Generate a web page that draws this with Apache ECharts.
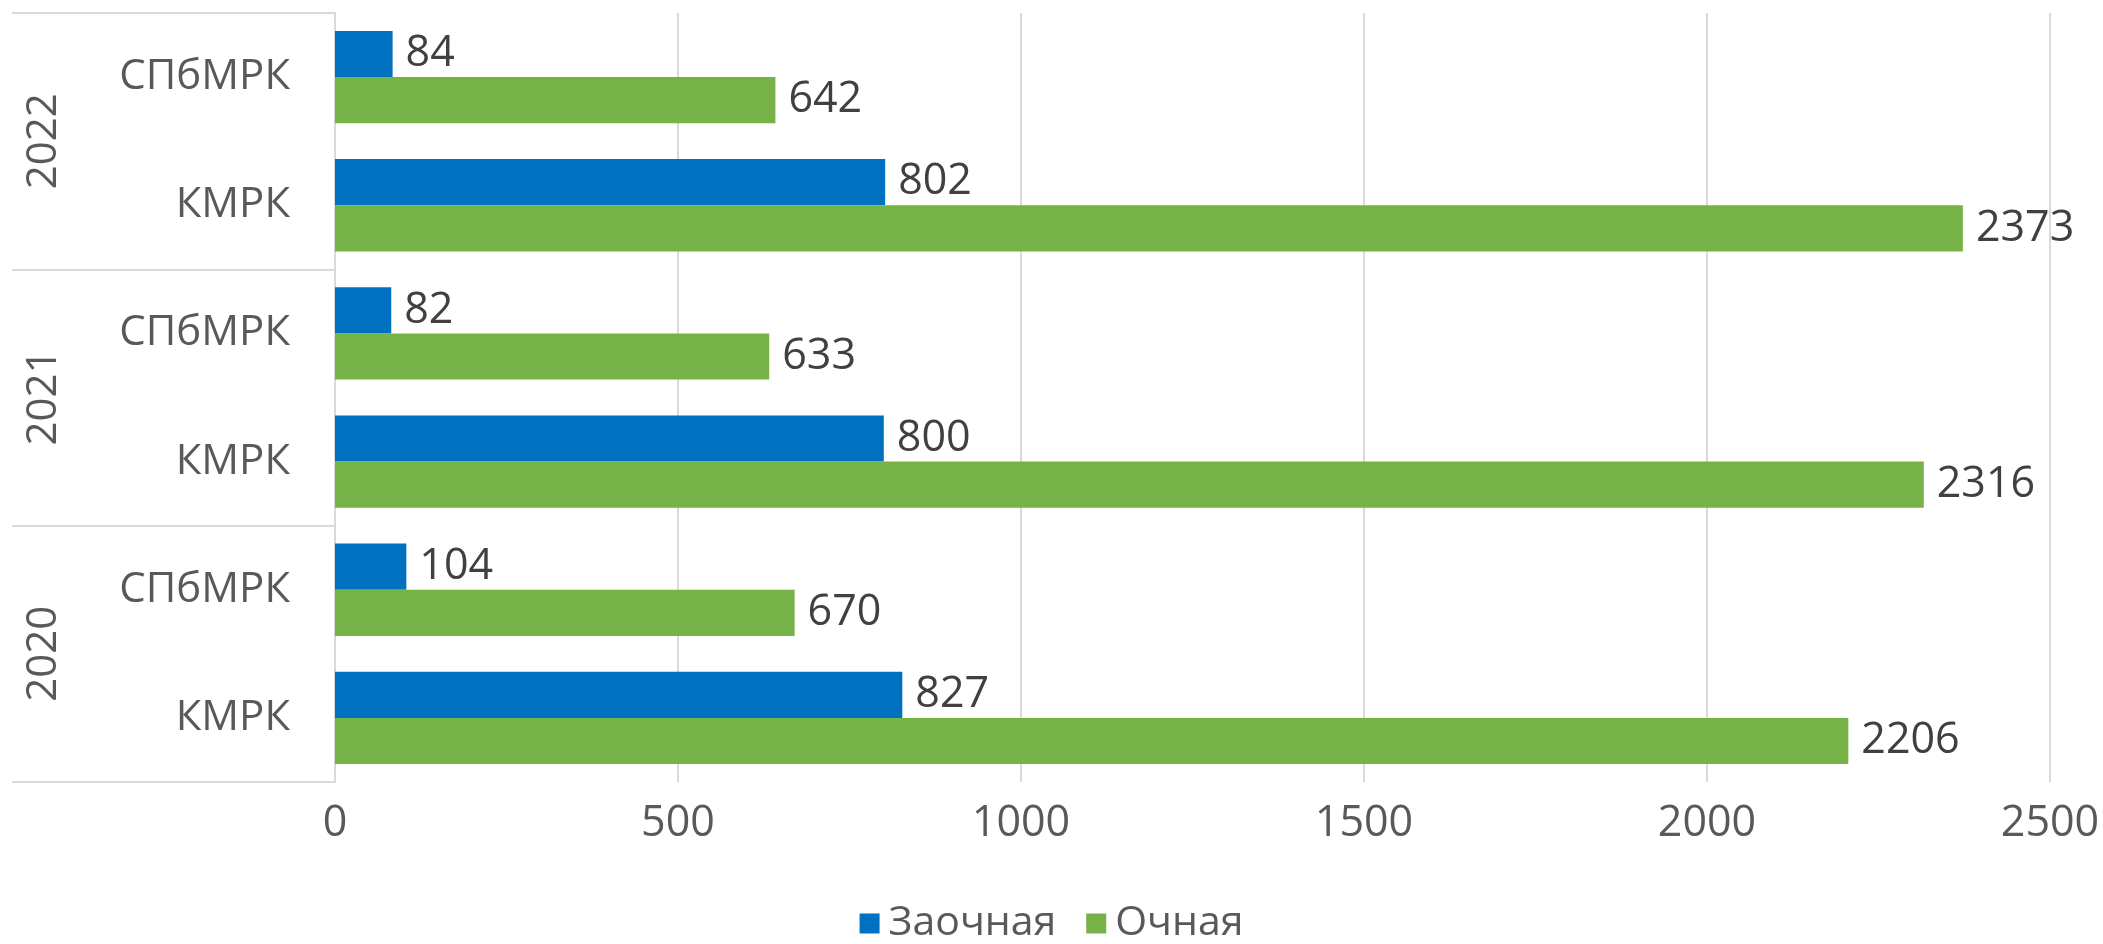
<!DOCTYPE html>
<html>
<head>
<meta charset="utf-8">
<script src="https://cdn.jsdelivr.net/npm/echarts@6/dist/echarts.min.js"></script>
<style>html,body{margin:0;padding:0;background:#fff;}#c{width:2103px;height:944px;}</style>
</head>
<body>
<div id="c"></div>
<script>
// Categories, bottom to top
const years = ['2020', '2021', '2022'];
const colleges = ['КМРК', 'СПбМРК'];
const categories = ['2020|КМРК', '2020|СПбМРК', '2021|КМРК', '2021|СПбМРК', '2022|КМРК', '2022|СПбМРК'];
const seriesNames = ['Заочная', 'Очная'];
const zaochnaya = [827, 104, 800, 82, 802, 84];
const ochnaya = [2206, 670, 2316, 633, 2373, 642];
const xTicks = [0, 500, 1000, 1500, 2000, 2500];

const FONT = '"Open Sans", "Noto Sans", sans-serif';
const GRID = '#d9d9d9';
const chart = echarts.init(document.getElementById('c'));
const labelStyle = {show: true, position: 'right', distance: 13, color: '#404040', fontSize: 43, fontFamily: FONT};
chart.setOption({
  animation: false,
  backgroundColor: '#fff',
  grid: {left: 335, right: 53, top: 13, bottom: 162, containLabel: false},
  legend: {
    data: seriesNames, top: 898, left: 'center', itemWidth: 20, itemHeight: 20, itemGap: 30,
    icon: 'rect', textStyle: {fontSize: 41, color: '#595959', fontFamily: FONT, padding: [0, 0, 0, 4]}
  },
  xAxis: {
    type: 'value', min: xTicks[0], max: xTicks[xTicks.length - 1], interval: 500,
    axisLine: {show: false}, axisTick: {show: false},
    splitLine: {show: true, lineStyle: {color: GRID, width: 2}},
    axisLabel: {fontSize: 43, color: '#595959', fontFamily: FONT, margin: 20, formatter: v => String(v)}
  },
  yAxis: [
    {
      type: 'category', data: categories, position: 'left',
      axisLine: {show: true, lineStyle: {color: GRID, width: 2}},
      axisTick: {show: false},
      axisLabel: {fontSize: 42, color: '#595959', fontFamily: FONT, margin: 45,
        formatter: v => v.split('|')[1]}
    },
    {
      type: 'category', data: years, position: 'left', offset: 0,
      axisLine: {show: false},
      axisTick: {show: true, length: 323, lineStyle: {color: GRID, width: 2}},
      axisLabel: {fontSize: 42, color: '#595959', fontFamily: FONT, margin: 270, rotate: 90}
    }
  ],
  series: [
    {name: seriesNames[0], type: 'bar', data: zaochnaya, yAxisIndex: 0, barGap: '0%', barCategoryGap: '28%',
      itemStyle: {color: '#0070C0'}, label: labelStyle},
    {name: seriesNames[1], type: 'bar', data: ochnaya, yAxisIndex: 0, barGap: '0%', barCategoryGap: '28%',
      itemStyle: {color: '#76B248'}, label: labelStyle}
  ]
});
</script>
</body>
</html>
